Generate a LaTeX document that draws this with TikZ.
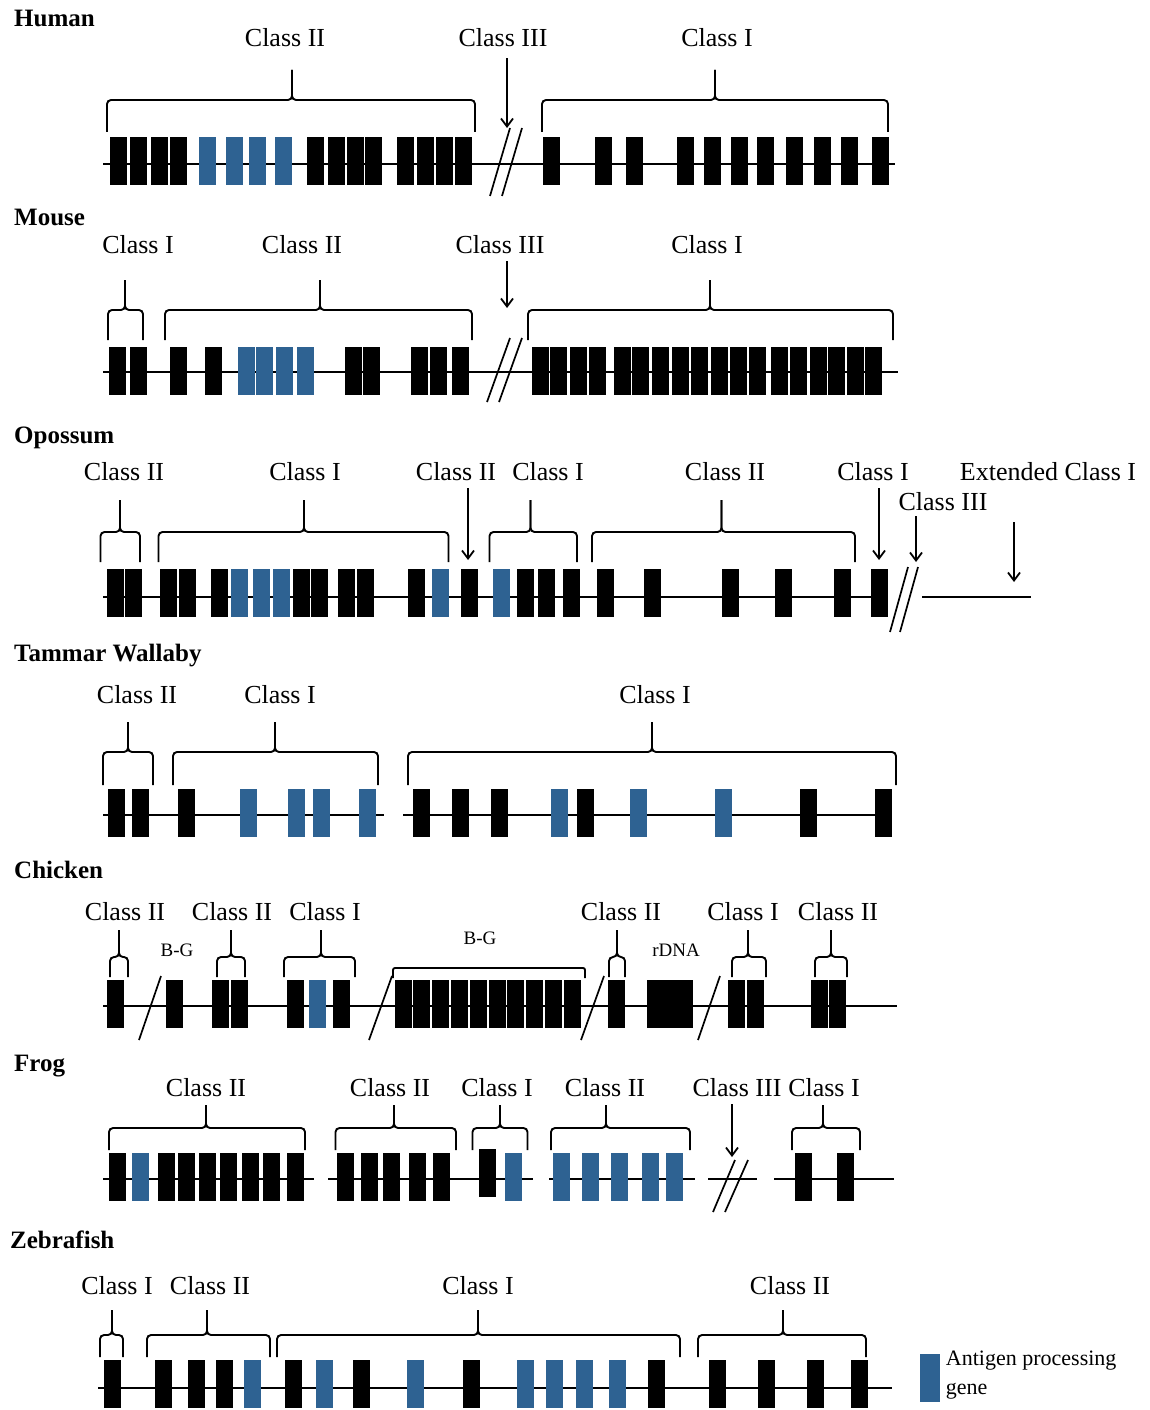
\documentclass[tikz,border=0pt]{standalone}
\usepackage{fontspec}
\setmainfont{Liberation Serif}
\usetikzlibrary{arrows.meta}
\definecolor{apblue}{RGB}{46,98,146}

% brace over a gene cluster: left x, tip x, right x, y of ends, y of bar, y of tip
\newcommand{\mhcbrace}[6]{%
  \draw[brc] (#1,#4) -- (#1,#5) -- (#2,#5) -- (#2,#6);
  \draw[brc] (#3,#4) -- (#3,#5) -- (#2,#5) -- (#2,#6);}

\begin{document}
\begin{tikzpicture}[x=1pt,y=1pt,yscale=-1,
  gene/.style={rectangle,fill=black,inner sep=0pt,minimum width=17pt,minimum height=48pt},
  apg/.style={gene,fill=apblue},
  chrom/.style={line width=2.6pt},
  brc/.style={line width=1.9pt,rounded corners=4pt},
  brk/.style={line width=1.7pt},
  arr/.style={line width=1.8pt,-{Straight Barb[length=8pt,width=12pt]}},
  ttl/.style={font=\fontsize{25}{30}\selectfont\bfseries,anchor=west,inner sep=0pt},
  lbl/.style={font=\fontsize{26}{30}\selectfont,inner sep=0.75pt},
  sml/.style={font=\fontsize{19}{22}\selectfont,inner sep=0.75pt}]
\useasboundingbox (0,0) rectangle (1150,1410);

%Human
\node[ttl] (hum) at (14,18) {Human};
\draw[chrom] (103,164) -- (895,164);
\foreach \x [count=\i] in {118,138.5,159,178.5,315,336,355,373,405.5,425,444,463.5,551,603,634,685,712,739,765.5,794,822,849,880}
  \node[gene] (hu\i) at (\x,161) {};
\foreach \x [count=\i] in {207,234,257,283.5}
  \node[apg] (hua\i) at (\x,161) {};
\draw[brk] (490,196) -- (510,128) (502,196) -- (522,128);
\node[lbl] (huII) at (285,38) {Class II};
\node[lbl] (huIII) at (503,38) {Class III};
\node[lbl] (huI) at (717,38) {Class I};
\mhcbrace{107}{292}{475}{132}{100}{70}
\mhcbrace{542}{715}{888}{132}{100}{70}
\coordinate (huIIIend) at (507,128);
\draw[arr,shorten <=10pt] (huIII.south -| huIIIend) -- (huIIIend);

%Mouse
\node[ttl] (mou) at (14,217) {Mouse};
\draw[chrom] (103,372) -- (898,372);
\foreach \x [count=\i] in {117.5,138.5,178.5,213,353.5,371.5,419,438,460,540,558.6,578,597,622,640,660,680,699,719,738,757,779,798,818,836,855,873}
  \node[gene] (mo\i) at (\x,371) {};
\foreach \x [count=\i] in {246,264.5,284,305}
  \node[apg] (moa\i) at (\x,371) {};
\draw[brk] (487,402) -- (510,338) (499,402) -- (522,338);
\node[lbl] (moIa) at (138,245) {Class I};
\node[lbl] (moII) at (302,245) {Class II};
\node[lbl] (moIII) at (500,245) {Class III};
\node[lbl] (moIb) at (707,245) {Class I};
\mhcbrace{108}{125}{143}{340}{310}{280}
\mhcbrace{165}{320}{472}{340}{310}{280}
\mhcbrace{528}{710}{893}{340}{310}{280}
\coordinate (moIIIend) at (507,308);
\draw[arr,shorten <=6pt] (moIII.south -| moIIIend) -- (moIIIend);

%Opossum
\node[ttl] (opo) at (14,438) {Opossum};
\draw[chrom] (103,597) -- (888,597) (922,597) -- (1031,597);
\foreach \x [count=\i] in {115.5,133.5,168.5,187.5,219,301,319.5,346.5,365.5,416,469,525,546.5,571.5,605,652,730.5,783.5,842.5,879.5}
  \node[gene] (op\i) at (\x,593) {};
\foreach \x [count=\i] in {239.5,261,281,440.5,501}
  \node[apg] (opa\i) at (\x,593) {};
\draw[brk] (890,632) -- (908,567) (900,632) -- (918,567);
\node[lbl] (opIIa) at (124,472) {Class II};
\node[lbl] (opIa) at (305,472) {Class I};
\node[lbl] (opIIb) at (456,472) {Class II};
\node[lbl] (opIb) at (548,472) {Class I};
\node[lbl] (opIIc) at (725,472) {Class II};
\node[lbl] (opIc) at (873,472) {Class I};
\node[lbl] (opext) at (1048,472) {Extended Class I};
\node[lbl] (opIII) at (943,502) {Class III};
\mhcbrace{100.5}{120}{140}{562}{532}{500}
\mhcbrace{158.5}{304}{448.5}{562}{532}{500}
\mhcbrace{489.5}{530.5}{577}{562}{532}{500}
\mhcbrace{592}{721.5}{855}{562}{532}{500}
\coordinate (opIIend) at (468,560);
\coordinate (opIend) at (879,560);
\coordinate (opIIIend) at (916,562);
\coordinate (opextend) at (1014,582);
\draw[arr,shorten <=6pt] (opIIb.south -| opIIend) -- (opIIend);
\draw[arr,shorten <=6pt] (opIc.south -| opIend) -- (opIend);
\draw[arr,shorten <=4pt] (opIII.south -| opIIIend) -- (opIIIend);
\draw[arr,shorten <=40pt] (opext.south -| opextend) -- (opextend);

%Tammar Wallaby
\node[ttl] (tam) at (14,656) {Tammar Wallaby};
\draw[chrom] (103,815) -- (384,815) (403,815) -- (892,815);
\foreach \x [count=\i] in {116.5,140,186,421.5,460.5,499.5,585.5,808.5,883.5}
  \node[gene] (ta\i) at (\x,813) {};
\foreach \x [count=\i] in {248,296,321,367,559,638,723}
  \node[apg] (taa\i) at (\x,813) {};
\node[lbl] (taII) at (137,695) {Class II};
\node[lbl] (taIa) at (280,695) {Class I};
\node[lbl] (taIb) at (655,695) {Class I};
\mhcbrace{103}{128}{153}{785}{752}{722}
\mhcbrace{173}{275}{378}{785}{752}{722}
\mhcbrace{408}{652}{896}{785}{752}{722}

%Chicken
\node[ttl] (chi) at (14,870) {Chicken};
\draw[chrom] (103,1006) -- (897,1006);
\foreach \x [count=\i] in {115,174,220.5,239.5,295.5,341.5,616.5,736,755.5,819,837.5}
  \node[gene] (ch\i) at (\x,1004) {};
\foreach \i in {0,...,9}
  \node[gene] (chg\i) at ({403+18.8*\i},1004) {};
\node[apg] (cha1) at (317.5,1004) {};
\node[gene,minimum width=46pt] (chr) at (670,1004) {};
\draw[brk] (139,1040) -- (161,976) (369,1040) -- (392,976) (581,1040) -- (604,976) (698,1040) -- (720,976);
\node[lbl] (chIIa) at (125,912) {Class II};
\node[lbl] (chIIb) at (232,912) {Class II};
\node[lbl] (chIa) at (325,912) {Class I};
\node[lbl] (chIIc) at (621,912) {Class II};
\node[lbl] (chIb) at (743,912) {Class I};
\node[lbl] (chIId) at (838,912) {Class II};
\node[sml] (chbga) at (177,950) {B-G};
\node[sml] (chbgb) at (480,938) {B-G};
\node[sml] (chdna) at (676,950) {rDNA};
\mhcbrace{110}{119}{128}{977}{957}{930}
\mhcbrace{217}{231}{245}{977}{957}{930}
\mhcbrace{284}{321}{355}{977}{957}{930}
\mhcbrace{609}{617}{625}{977}{957}{930}
\mhcbrace{732}{748}{766}{977}{957}{930}
\mhcbrace{815}{831}{847}{977}{957}{930}
\draw[brc,rounded corners=2pt] (393,978) -- (393,968) -- (585,968) -- (585,978);

%Frog
\node[ttl] (fro) at (14,1066) {Frog};
\draw[chrom] (103,1179) -- (314,1179) (328,1179) -- (533,1179) (549,1179) -- (695,1179)
  (708,1179) -- (757,1179) (774,1179) -- (894,1179);
\foreach \x [count=\i] in {117,166,186.5,207,228,250.5,271.5,295,345,369,391,417.5,441.5,803,845}
  \node[gene] (fr\i) at (\x,1177) {};
\node[gene] (frI) at (487.5,1173) {};
\foreach \x [count=\i] in {140.5,513.5,561.5,590.5,619,650.5,674.5}
  \node[apg] (fra\i) at (\x,1177) {};
\draw[brk] (713,1212) -- (735,1160) (725,1212) -- (748,1160);
\node[lbl] (frIIa) at (206,1088) {Class II};
\node[lbl] (frIIb) at (390,1088) {Class II};
\node[lbl] (frIa) at (497,1088) {Class I};
\node[lbl] (frIIc) at (605,1088) {Class II};
\node[lbl] (frIII) at (737,1088) {Class III};
\node[lbl] (frIb) at (824,1088) {Class I};
\mhcbrace{109}{206}{305}{1150}{1128}{1105}
\mhcbrace{335.5}{394}{456}{1150}{1128}{1105}
\mhcbrace{472.5}{500}{527.5}{1150}{1128}{1105}
\mhcbrace{551}{606}{690}{1150}{1128}{1105}
\mhcbrace{792}{823}{860}{1150}{1128}{1105}
\coordinate (frIIIend) at (732,1157);
\draw[arr,shorten <=6pt] (frIII.south -| frIIIend) -- (frIIIend);

%Zebrafish
\node[ttl] (zeb) at (10,1240) {Zebrafish};
\draw[chrom] (98,1388) -- (892,1388);
\foreach \x [count=\i] in {112.5,163,196.5,224.5,293.5,361,471,656.5,717,766,815.5,859.5}
  \node[gene] (ze\i) at (\x,1384) {};
\foreach \x [count=\i] in {252.5,324,415.5,525.5,554,584,617.5}
  \node[apg] (zea\i) at (\x,1384) {};
\node[lbl] (zeIa) at (117,1286) {Class I};
\node[lbl] (zeIIa) at (210,1286) {Class II};
\node[lbl] (zeIb) at (478,1286) {Class I};
\node[lbl] (zeIIb) at (790,1286) {Class II};
\mhcbrace{100}{112}{123}{1357}{1335}{1310}
\mhcbrace{147}{207}{270}{1357}{1335}{1310}
\mhcbrace{277}{478}{680}{1357}{1335}{1310}
\mhcbrace{698}{783}{866}{1357}{1335}{1310}

% legend
\node[apg,minimum width=20pt] (leg) at (930,1378) {};
\node[sml,font=\fontsize{22}{24}\selectfont,anchor=west] (legtxt) at (945,1361) {Antigen processing};
\node[sml,font=\fontsize{22}{24}\selectfont,anchor=west] (leggene) at (945,1391) {gene};

\end{tikzpicture}
\end{document}
